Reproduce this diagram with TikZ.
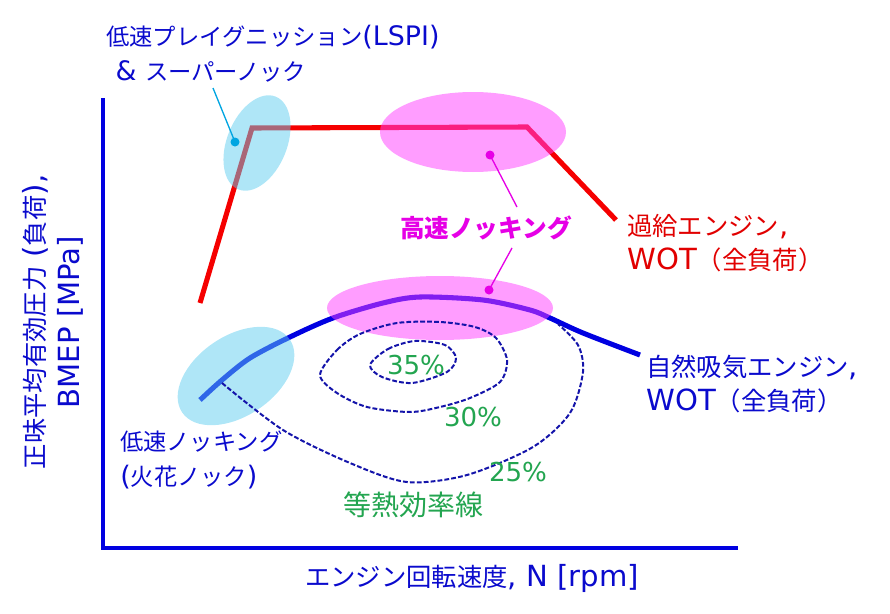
\documentclass[tikz,border=0pt]{standalone}
\usepackage{fontspec}
\setmainfont{DejaVu Sans}[Scale=1.15]
\newfontfamily\jp{Noto Sans CJK JP}
\definecolor{axisblue}{RGB}{0,0,225}
\definecolor{txtblue}{RGB}{10,10,205}
\definecolor{wotred}{RGB}{245,0,0}
\definecolor{txtred}{RGB}{225,0,0}
\definecolor{knockmag}{RGB}{255,60,255}
\definecolor{dotmag}{RGB}{230,0,230}
\definecolor{lspicyan}{RGB}{95,205,240}
\definecolor{dotcyan}{RGB}{0,165,225}
\definecolor{effgreen}{RGB}{35,165,80}
\definecolor{contour}{RGB}{20,20,170}

\begin{document}
\begin{tikzpicture}[x=0.75pt, y=-0.75pt,
	lbl/.style={inner sep=0pt, align=left, font=\fontsize{19}{26}\selectfont},
	smalllbl/.style={lbl, font=\fontsize{17.5}{26}\selectfont},
	pct/.style={inner sep=0pt, text=effgreen, font=\fontsize{17}{20}\selectfont},
	wotline/.style={line width=3.8pt, line join=miter},
	zone/.style={fill opacity=0.5},
	contourline/.style={contour, line width=1.5pt, dash pattern=on 3.6pt off 1.6pt}]
	\useasboundingbox (0,0) rectangle (890,614);
	% axes
	\draw[axisblue, line width=3pt] (103,98) -- (103,548) -- (738,548);
	% WOT curves
	\draw[wotred, wotline] (200,303) -- (252,128) -- (527,127) -- (616,220);
	\draw[axisblue, wotline] plot[smooth] coordinates {(200,400) (222,380) (250,358) (290,337) (333,318) (383,303) (420,297) (483,300) (530,310) (550,318) (583,333) (640,355)};
	% knock zones
	\fill[zone, knockmag] (473,132) ellipse [x radius=93, y radius=40];
	\fill[zone, knockmag] (440,308) ellipse [x radius=113, y radius=32];
	\fill[zone, lspicyan, rotate around={68:(257,143)}] (257,143) ellipse [x radius=50, y radius=30];
	\fill[zone, lspicyan, rotate around={34:(236,376)}] (236,376) ellipse [x radius=65, y radius=40];
	% iso-efficiency lines
	\draw[contourline] plot[smooth cycle] coordinates {(370,365) (388,349) (415,341) (445,345) (456,358) (447,372) (412,383) (382,377)};
	\draw[contourline] plot[smooth cycle] coordinates {(320,375) (337,350) (360,334) (397,323) (440,322) (475,327) (496,338) (507,360) (500,382) (470,398) (440,407) (410,412) (367,407) (337,393)};
	\draw[contourline] plot[smooth] coordinates {(222,383) (283,430) (350,463) (407,482) (467,475) (533,447) (570,413) (583,372) (578,345) (558,324)};
	% labels
	\node (lspi) at (106,54) [smalllbl, anchor=west, text=txtblue] {{\jp 低速プレイグニッション}(LSPI)\\\hspace*{7pt}\&~{\jp スーパーノック}};
	\node (hiknock) at (486,228) [inner sep=0pt, text=dotmag, font=\fontsize{18.5}{22}\selectfont\bfseries] {\jp 高速ノッキング};
	\node (turbo) at (627,243) [lbl, anchor=west, text=txtred] {{\jp 過給エンジン},\\WOT{\jp （全負荷）}};
	\node (natural) at (646,384) [lbl, anchor=west, text=txtblue] {{\jp 自然吸気エンジン},\\WOT{\jp （全負荷）}};
	\node (lowknock) at (120,460) [smalllbl, anchor=west, text=txtblue] {{\jp 低速ノッキング}\\({\jp 火花ノック})};
	\node (p35) at (416,365) [pct] {35\%};
	\node (p30) at (473,417) [pct] {30\%};
	\node (p25) at (518,472) [pct] {25\%};
	\node (iso) at (413,505) [inner sep=0pt, text=effgreen, font=\fontsize{21}{24}\selectfont\jp] {等熱効率線};
	\node (xlab) at (472,578) [lbl, text=txtblue] {{\jp エンジン回転速度}, N [rpm]};
	\node (ylab) at (53,322) [lbl, align=center, rotate=90, text=txtblue] {{\jp 正味平均有効圧力} ({\jp 負荷}),\\BMEP [MPa]};
	% callouts
	\coordinate (lspitip) at (213,88);
	\coordinate (lspidot) at (235,142);
	\coordinate (updot) at (490,155);
	\coordinate (updown) at (517,207);
	\coordinate (lowup) at (512,248);
	\coordinate (lowdot) at (489,290);
	\draw[dotcyan, line width=1pt] (lspitip) -- (lspidot);
	\fill[dotcyan] (lspidot) circle [radius=4.5];
	\draw[dotmag, line width=1pt] (updown) -- (updot);
	\draw[dotmag, line width=1pt] (lowup) -- (lowdot);
	\fill[dotmag] (updot) circle [radius=4.5];
	\fill[dotmag] (lowdot) circle [radius=4.5];
\end{tikzpicture}
\end{document}
